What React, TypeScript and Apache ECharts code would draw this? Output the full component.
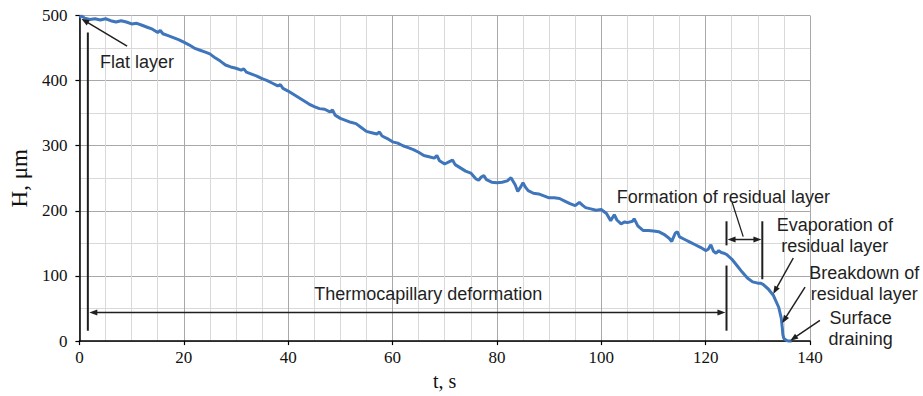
import React, { useEffect, useRef } from "react";
import * as echarts from "echarts";

// Measured film thickness H (µm) versus time t (s)
const timeS = [
  0, 0.5, 1, 2, 3, 4, 5, 6, 7, 8, 9, 10, 11, 12, 13, 14, 15, 15.5, 16, 17, 18, 19, 20,
  21, 22, 23, 24, 25, 26, 27, 28, 29, 30, 31, 31.5, 32, 33, 34, 35, 36, 37, 38, 38.5, 39, 40,
  41, 42, 43, 44, 45, 46, 47, 48, 48.5, 49, 50, 51, 52, 53, 54, 55, 56, 57, 57.5, 58, 59, 60,
  61, 62, 63, 64, 65, 66, 67, 68, 68.5, 69, 70, 71, 71.5, 72, 73, 74, 75, 76, 76.5, 77, 77.5,
  78, 79, 80, 81, 82, 82.7, 83.5, 84, 84.5, 85, 85.5, 86, 87, 88, 89, 90, 91, 92, 93, 94, 95,
  95.8, 96.5, 97, 98, 99, 100, 101, 101.8, 102.5, 103, 103.8, 104.5, 105, 106, 106.3, 107, 108,
  109, 110, 111, 112, 113, 113.5, 114.2, 114.6, 115, 116, 117, 118, 119, 120, 120.5, 121, 121.5,
  122, 122.5, 123, 123.5, 124, 125, 126, 127, 128, 129, 130, 130.5, 131, 132, 133, 134, 134.5,
  134.7, 134.8, 135, 135.5, 136, 136.5,
];
const heightUm = [
  497, 499, 496, 494, 495, 493, 495, 492, 490, 492, 490, 487, 488, 485, 482, 479, 474, 477, 472, 469, 466, 463, 459,
  455, 450, 447, 444, 441, 435, 430, 424, 421, 419, 416, 418, 413, 410, 407, 403, 400, 396, 392, 394, 388, 384,
  379, 374, 369, 364, 360, 357, 356, 352, 355, 347, 342, 339, 336, 334, 328, 322, 320, 318, 321, 315, 311, 306,
  304, 300, 297, 294, 290, 285, 283, 281, 285, 277, 272, 276, 278, 271, 266, 261, 258, 249, 247, 252, 254,
  248, 244, 243, 244, 246, 251, 240, 230, 236, 243, 236, 231, 227, 226, 223, 220, 220, 219, 215, 211, 208,
  213, 208, 205, 203, 201, 202, 196, 185, 194, 186, 180, 183, 182, 184, 188, 177, 170,
  170, 169, 168, 164, 158, 153, 166, 168, 160, 156, 152, 148, 144, 139, 141, 148, 138,
  135, 139, 136, 135, 133, 126, 116, 106, 97, 91, 89, 89, 87, 80, 70, 52, 35,
  20, 10, 4, 1, 0, 0,
];

// Axis settings
const xRange = [0, 140];
const xStep = 20;
const yRange = [0, 500];
const yStep = 100;

// Annotation geometry in data units [t, H]
const flatLayerArrow = [[9.14, 453], [0.38, 495]];
const startMarker = [[1.62, 474], [1.62, 16]];
const thermoArrow = [[1.9, 44], [123.8, 44]];
const thermoEndLow = [[124.0, 16], [124.0, 116]];
const thermoEndHigh = [[124.0, 147], [124.0, 184]];
const evapStartMarker = [[130.86, 95], [130.86, 184]];
const formationArrow = [[124.2, 156], [130.7, 156]];
const formationLeader = [[125.1, 212.7], [127.2, 160.4]];
const evaporationArrow = [[136.8, 127.6], [132.95, 72.4]];
const breakdownArrow = [[139.05, 82.8], [134.67, 27.6]];
const drainingArrow = [[141.9, 32], [136.2, 0.7]];

const annotationTexts = [
  { text: "Flat layer", at: [11.05, 429] },
  { text: "Thermocapillary deformation", at: [66.86, 72.4] },
  { text: "Formation of residual layer", at: [123.4, 221.6] },
  { text: "Evaporation of\nresidual layer", at: [144.76, 162.7] },
  { text: "Breakdown of\nresidual layer", at: [150.4, 88.7] },
  { text: "Surface\ndraining", at: [149.7, 19.4] },
];

const INK = "#1f1f1f";

export default function App() {
  const ref = useRef<HTMLDivElement>(null);

  useEffect(() => {
    if (!ref.current) return;
    const chart = echarts.init(ref.current, null, { renderer: "svg" });
    const serif = "'Liberation Serif', 'Times New Roman', serif";
    const sans = "'Liberation Sans', Arial, sans-serif";

    chart.setOption({
      animation: false,
      grid: { left: 75, top: 15.5, width: 735, height: 335, containLabel: false },
      xAxis: {
        type: "value",
        min: xRange[0],
        max: xRange[1],
        interval: xStep,
        name: "t, s",
        nameLocation: "middle",
        nameGap: 20,
        nameTextStyle: { fontFamily: serif, fontSize: 20, color: "#111" },
        axisLine: { show: true, onZero: false, lineStyle: { color: "#000", width: 1.5 } },
        axisTick: { show: true, length: 4, lineStyle: { color: "#000", width: 1.2 } },
        axisLabel: { fontFamily: serif, fontSize: 17, color: "#111", margin: 8 },
        splitLine: { show: true, lineStyle: { color: "#a8a8a8", width: 1 } },
        minorTick: { show: false, splitNumber: 4 },
        minorSplitLine: { show: true, lineStyle: { color: "#d9d9d9", width: 1 } },
      },
      yAxis: {
        type: "value",
        min: yRange[0],
        max: yRange[1],
        interval: yStep,
        name: "H, μm",
        nameLocation: "middle",
        nameGap: 37,
        nameTextStyle: { fontFamily: serif, fontSize: 23, color: "#111" },
        axisLine: { show: true, onZero: false, lineStyle: { color: "#000", width: 1.5 } },
        axisTick: { show: true, length: 4, lineStyle: { color: "#000", width: 1.2 } },
        axisLabel: { fontFamily: serif, fontSize: 17, color: "#111", margin: 12 },
        splitLine: { show: true, lineStyle: { color: "#a8a8a8", width: 1 } },
        minorTick: { show: false, splitNumber: 2 },
        minorSplitLine: { show: true, lineStyle: { color: "#d9d9d9", width: 1 } },
      },
      series: [
        {
          type: "line",
          data: timeS.map((t, i) => [t, heightUm[i]]),
          showSymbol: false,
          clip: false,
          lineStyle: { color: "#3e75bb", width: 3 },
          z: 3,
        },
      ],
    });

    const px = (p: number[]) => chart.convertToPixel({ gridIndex: 0 }, p) as number[];
    const elements: any[] = [];

    const addSeg = (seg: number[][], heads: "none" | "end" | "both", width: number) => {
      const a = px(seg[0]);
      const b = px(seg[1]);
      const dx = b[0] - a[0];
      const dy = b[1] - a[1];
      const len = Math.hypot(dx, dy) || 1;
      const ux = dx / len;
      const uy = dy / len;
      const L = 8;
      const W = 3;
      let s = [...a];
      let e = [...b];
      const head = (tip: number[], dirx: number, diry: number) => {
        const bx = tip[0] - dirx * L;
        const by = tip[1] - diry * L;
        elements.push({
          type: "polygon",
          z: 100,
          silent: true,
          shape: {
            points: [
              [tip[0], tip[1]],
              [bx - diry * W, by + dirx * W],
              [bx + diry * W, by - dirx * W],
            ],
          },
          style: { fill: INK, stroke: null },
        });
      };
      if (heads === "end" || heads === "both") {
        head(b, ux, uy);
        e = [b[0] - ux * (L - 1), b[1] - uy * (L - 1)];
      }
      if (heads === "both") {
        head(a, -ux, -uy);
        s = [a[0] + ux * (L - 1), a[1] + uy * (L - 1)];
      }
      elements.push({
        type: "line",
        z: 100,
        silent: true,
        shape: { x1: s[0], y1: s[1], x2: e[0], y2: e[1] },
        style: { stroke: INK, lineWidth: width },
      });
    };

    addSeg(flatLayerArrow, "end", 1.5);
    addSeg(startMarker, "none", 2);
    addSeg(thermoArrow, "both", 1.5);
    addSeg(thermoEndLow, "none", 2);
    addSeg(thermoEndHigh, "none", 2);
    addSeg(evapStartMarker, "none", 2);
    addSeg(formationArrow, "both", 1.5);
    addSeg(formationLeader, "none", 1.3);
    addSeg(evaporationArrow, "end", 1.5);
    addSeg(breakdownArrow, "end", 1.5);
    addSeg(drainingArrow, "end", 1.5);

    annotationTexts.forEach((a) => {
      const p = px(a.at);
      elements.push({
        type: "text",
        z: 101,
        silent: true,
        x: p[0],
        y: p[1],
        style: {
          text: a.text,
          fontFamily: sans,
          fontSize: 18,
          lineHeight: 21,
          fill: INK,
          align: "center",
          verticalAlign: "middle",
        },
      });
    });

    chart.setOption({ graphic: elements });

    return () => chart.dispose();
  }, []);

  return (
    <div
      ref={ref}
      style={{ position: "fixed", left: 0, top: 0, width: 923, height: 396, background: "#fff" }}
    />
  );
}
